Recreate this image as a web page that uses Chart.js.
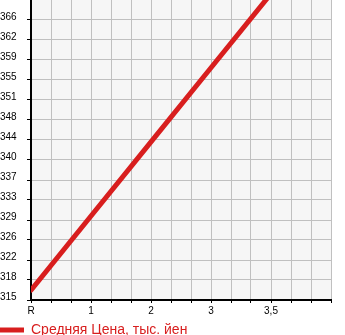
<!DOCTYPE html>
<html>
<head>
<meta charset="utf-8">
<script src="https://cdn.jsdelivr.net/npm/chart.js@4/dist/chart.umd.min.js"></script>
<style>
  html, body { margin: 0; padding: 0; background: #fff; }
  #wrap { width: 345px; height: 335px; position: relative; }
</style>
</head>
<body>
<div id="wrap"><canvas id="grafica"></canvas></div>
<script>
// Datos de la gráfica
const etiquetasX = ['R', '1', '2', '3', '3,5'];
const posicionesX = [0, 1, 2, 3, 4];
const precios = [316.8, 330.3, 343.8, 357.3, 370.8];
const etiquetasY = ['315', '318', '322', '326', '329', '333', '337', '340', '344', '348', '351', '355', '359', '362', '366'];
const nombreSerie = 'Средняя Цена, тыс. йен';

const rojo = '#d81e1e';
const minY = 315;
const pasoY = 51 / 14;

// Fondo gris del área del gráfico
const fondoArea = {
    id: 'fondoArea',
    beforeDraw(chart) {
        const { ctx, chartArea } = chart;
        ctx.save();
        ctx.fillStyle = '#f6f6f6';
        ctx.fillRect(chartArea.left, chartArea.top, chartArea.right - chartArea.left, chartArea.bottom - chartArea.top);
        ctx.restore();
    }
};

const ctx = document.getElementById('grafica').getContext('2d');
const grafica = new Chart(ctx, {
    type: 'line',
    data: {
        datasets: [{
            label: nombreSerie,
            data: posicionesX.map((x, i) => ({ x: x, y: precios[i] })),
            borderColor: rojo,
            backgroundColor: rojo,
            borderWidth: 5,
            pointRadius: 0,
            tension: 0,
            borderCapStyle: 'round'
        }]
    },
    options: {
        responsive: true,
        maintainAspectRatio: false,
        animation: false,
        layout: { padding: { left: 0, right: 14, top: 0, bottom: 0 } },
        plugins: {
            tooltip: { enabled: false },
            legend: {
                position: 'bottom',
                align: 'start',
                maxHeight: 12,
                labels: {
                    boxWidth: 24,
                    boxHeight: 5,
                    padding: 0,
                    color: rojo,
                    font: { family: 'Liberation Sans', size: 14 },
                    generateLabels: () => [{
                        text: nombreSerie,
                        fillStyle: rojo,
                        strokeStyle: rojo,
                        lineWidth: 0,
                        fontColor: rojo,
                        datasetIndex: 0
                    }]
                }
            }
        },
        scales: {
            x: {
                type: 'linear',
                min: 0,
                max: 5,
                afterBuildTicks: (escala) => {
                    escala.ticks = [];
                    for (let k = 0; k <= 15; k++) escala.ticks.push({ value: k / 3 });
                },
                afterFit: (escala) => { escala.height = 23; },
                grid: { color: '#c0c0c0', lineWidth: 1, tickColor: '#000', tickLength: 3 },
                border: { color: '#000', width: 2 },
                ticks: {
                    autoSkip: false,
                    maxRotation: 0,
                    color: '#000',
                    padding: 2,
                    font: { family: 'Liberation Sans', size: 10 },
                    callback: (valor, indice) => (indice % 3 === 0 && etiquetasX[indice / 3]) ? etiquetasX[indice / 3] : ''
                }
            },
            y: {
                type: 'linear',
                min: minY,
                max: minY + 15 * pasoY,
                afterBuildTicks: (escala) => {
                    escala.ticks = [];
                    for (let k = 0; k < 15; k++) escala.ticks.push({ value: minY + k * pasoY });
                },
                afterFit: (escala) => {
                    escala.width = 31;
                    escala.paddingTop = 0;
                    escala.paddingBottom = 0;
                },
                grid: { color: '#c0c0c0', lineWidth: 1, tickColor: '#000', tickLength: 4 },
                border: { color: '#000', width: 2 },
                ticks: {
                    autoSkip: false,
                    color: '#000',
                    crossAlign: 'far',
                    labelOffset: -3,
                    font: { family: 'Liberation Sans', size: 10 },
                    callback: (valor, indice) => etiquetasY[indice] || ''
                }
            }
        }
    },
    plugins: [fondoArea]
});
</script>
</body>
</html>
